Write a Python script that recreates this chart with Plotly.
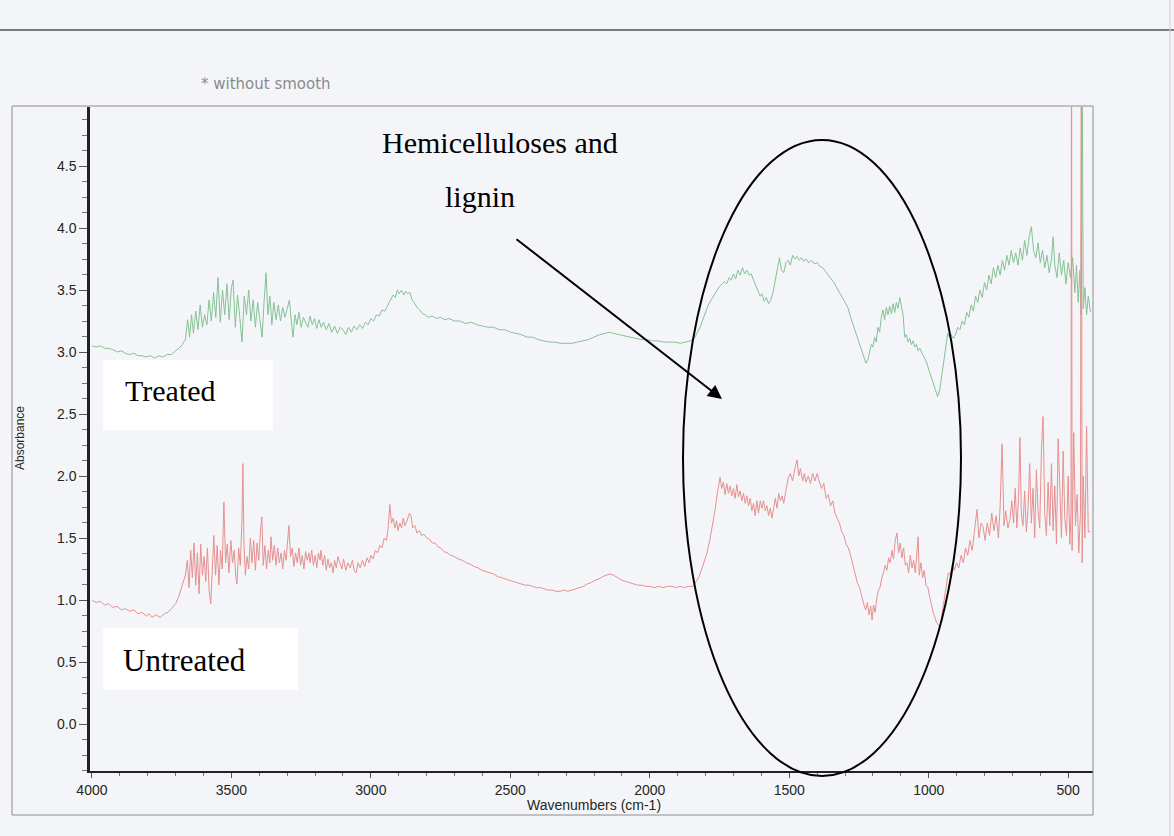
import plotly.graph_objects as go

# ---------------- data ----------------
wn_treated = [4000, 3985, 3970, 3955, 3940, 3925, 3910, 3895, 3880, 3865, 3850, 3835, 3820, 3805, 3790, 3775,
              3760, 3745, 3730, 3715, 3700, 3688, 3676,
              3665, 3657, 3650, 3643, 3636, 3628, 3620, 3612, 3604, 3596, 3588, 3580, 3572, 3564, 3556, 3548,
              3540, 3532, 3524, 3516, 3508, 3500, 3494, 3486, 3478, 3470, 3462, 3454, 3446, 3438, 3430, 3422,
              3414, 3406, 3398, 3390, 3383, 3376, 3369, 3362, 3355, 3348, 3340, 3332, 3324, 3316, 3308, 3300,
              3292, 3285, 3279, 3272, 3265, 3258, 3250, 3242, 3234, 3226, 3218, 3210, 3202, 3194, 3186, 3178,
              3170, 3160, 3150, 3140, 3130, 3120, 3110, 3100, 3090, 3080, 3070, 3060, 3050, 3040, 3030, 3020,
              3010, 3000, 2990, 2980, 2970, 2960, 2950, 2940, 2930, 2920, 2912, 2905, 2898, 2890, 2882, 2875,
              2868, 2860, 2852, 2845, 2835, 2825, 2815, 2805, 2795, 2780, 2765, 2750, 2735, 2720, 2700, 2680,
              2660, 2640, 2620, 2600, 2580, 2560, 2540, 2520, 2500, 2480, 2460, 2440, 2420, 2400, 2380, 2360,
              2340, 2320, 2300, 2280, 2260, 2240, 2220, 2200, 2180, 2160, 2145, 2130, 2110, 2090, 2070, 2050,
              2030, 2010, 1990, 1970, 1950, 1930, 1910, 1890, 1870, 1855, 1840, 1830, 1820, 1810, 1800, 1790,
              1780, 1770, 1760, 1750, 1740, 1732, 1724, 1716, 1708, 1700, 1692, 1684, 1676, 1668, 1660, 1652,
              1644, 1636, 1628, 1620, 1612, 1604, 1598, 1590, 1582, 1574, 1566, 1558, 1550, 1542, 1535, 1528,
              1520, 1512, 1504, 1496, 1488, 1480, 1472, 1464, 1456, 1448, 1440, 1430, 1420, 1410, 1400, 1390,
              1380, 1370, 1360, 1350, 1340, 1330, 1320, 1310, 1300, 1290, 1280, 1270, 1260, 1250, 1240, 1232,
              1225, 1218, 1212, 1206, 1200, 1194, 1188, 1182, 1176, 1170, 1164, 1158, 1152, 1146, 1140, 1134,
              1128, 1122, 1116, 1110, 1104, 1098, 1092, 1086, 1080, 1074, 1068, 1062, 1056, 1050, 1044, 1038,
              1032, 1024, 1016, 1008, 1000, 992, 984, 976, 968, 960, 952, 944, 938, 932, 926, 920,
              912, 904, 896, 888, 880, 872, 864, 856, 848, 840, 832, 824, 816, 808, 800, 792,
              784, 776, 768, 760, 752, 744, 736, 728, 720, 712, 704, 696, 688, 680, 672, 664,
              656, 648, 640, 632, 624, 616, 608, 600, 592, 584, 576, 568, 560, 554, 548, 540,
              532, 524, 516, 508, 500, 492, 484, 476, 470, 464, 458, 454, 450, 446, 440, 434,
              428, 420]
abs_treated = [3.05, 3.04, 3.05, 3.03, 3.03, 3.02, 3.00, 3.01, 2.99, 2.98, 2.99, 2.97, 2.97, 2.96, 2.97, 2.95,
               2.97, 2.96, 2.98, 2.98, 3.01, 3.03, 3.06,
               3.10, 3.26, 3.12, 3.30, 3.15, 3.33, 3.18, 3.38, 3.20, 3.30, 3.22, 3.42, 3.25, 3.48, 3.28, 3.60,
               3.24, 3.50, 3.30, 3.55, 3.26, 3.52, 3.58, 3.20, 3.46, 3.28, 3.08, 3.45, 3.30, 3.50, 3.25, 3.42,
               3.20, 3.40, 3.28, 3.12, 3.40, 3.64, 3.30, 3.45, 3.22, 3.40, 3.26, 3.38, 3.25, 3.36, 3.28, 3.34,
               3.42, 3.24, 3.12, 3.30, 3.22, 3.32, 3.20, 3.28, 3.24, 3.20, 3.29, 3.22, 3.27, 3.19, 3.26, 3.20,
               3.24, 3.18, 3.23, 3.16, 3.21, 3.15, 3.20, 3.18, 3.14, 3.20, 3.16, 3.21, 3.18, 3.22, 3.19, 3.24,
               3.22, 3.27, 3.25, 3.30, 3.29, 3.34, 3.33, 3.38, 3.42, 3.46, 3.44, 3.50, 3.47, 3.50, 3.46, 3.49,
               3.47, 3.48, 3.42, 3.40, 3.36, 3.34, 3.31, 3.30, 3.28, 3.29, 3.27, 3.28, 3.26, 3.27, 3.25, 3.25,
               3.23, 3.24, 3.22, 3.21, 3.20, 3.20, 3.18, 3.18, 3.16, 3.15, 3.14, 3.12, 3.12, 3.10, 3.09, 3.08,
               3.08, 3.07, 3.07, 3.07, 3.08, 3.09, 3.10, 3.12, 3.14, 3.15, 3.16, 3.15, 3.14, 3.13, 3.12, 3.11,
               3.10, 3.10, 3.09, 3.09, 3.08, 3.08, 3.08, 3.07, 3.08, 3.09, 3.11, 3.15, 3.20, 3.26, 3.32, 3.38,
               3.42, 3.46, 3.50, 3.53, 3.55, 3.57, 3.55, 3.60, 3.58, 3.63, 3.59, 3.66, 3.62, 3.68, 3.63, 3.66,
               3.62, 3.63, 3.58, 3.54, 3.50, 3.45, 3.47, 3.41, 3.44, 3.39, 3.42, 3.48, 3.58, 3.68, 3.76, 3.66,
               3.64, 3.72, 3.74, 3.70, 3.78, 3.75, 3.77, 3.74, 3.76, 3.73, 3.75, 3.72, 3.74, 3.71, 3.72, 3.69,
               3.68, 3.65, 3.62, 3.60, 3.56, 3.52, 3.48, 3.45, 3.40, 3.36, 3.28, 3.21, 3.15, 3.08, 3.02, 2.96,
               2.91, 2.94, 2.99, 3.06, 3.04, 3.12, 3.08, 3.20, 3.16, 3.28, 3.34, 3.26, 3.36, 3.30, 3.37, 3.31,
               3.39, 3.32, 3.40, 3.35, 3.44, 3.38, 3.30, 3.12, 3.14, 3.08, 3.11, 3.06, 3.09, 3.04, 3.06, 3.01,
               3.03, 2.99, 2.96, 2.92, 2.86, 2.80, 2.74, 2.70, 2.64, 2.70, 2.82, 2.96, 3.06, 3.15, 3.12, 3.14,
               3.11, 3.14, 3.20, 3.18, 3.25, 3.22, 3.32, 3.28, 3.38, 3.33, 3.45, 3.40, 3.50, 3.44, 3.56, 3.50,
               3.62, 3.55, 3.68, 3.60, 3.70, 3.62, 3.74, 3.66, 3.78, 3.70, 3.82, 3.72, 3.80, 3.70, 3.84, 3.74,
               3.90, 3.78, 3.93, 4.01, 3.82, 3.76, 3.88, 3.72, 3.82, 3.68, 3.78, 3.64, 3.75, 3.93, 3.70, 3.60,
               3.80, 3.62, 3.74, 3.55, 3.72, 3.60, 3.76, 3.48, 3.70, 3.40, 3.66, 3.30, 5.50, 3.35, 3.52, 3.30,
               3.45, 3.32]

wn_untreated = [4000, 3985, 3970, 3955, 3940, 3925, 3910, 3895, 3880, 3865, 3850, 3835, 3820, 3805, 3795, 3785,
                3770, 3755, 3740, 3728, 3715, 3700, 3690, 3681, 3672, 3665,
                3658, 3652, 3646, 3640, 3634, 3628, 3622, 3616, 3610, 3604, 3598, 3592, 3586, 3580, 3574, 3568,
                3563, 3557, 3551, 3545, 3539, 3533, 3527, 3521, 3515, 3509, 3502, 3496, 3490, 3484, 3480, 3474,
                3468, 3462, 3459, 3455, 3450, 3444, 3438, 3432, 3426, 3420, 3414, 3408, 3402, 3396, 3391, 3386,
                3380, 3374, 3368, 3362, 3358, 3352, 3346, 3340, 3334, 3328, 3322, 3316, 3310, 3304, 3298, 3294,
                3288, 3282, 3276, 3270, 3264, 3258, 3252, 3246, 3240, 3234, 3228, 3222, 3218, 3212, 3206, 3200,
                3194, 3188, 3182, 3179, 3172, 3166, 3160, 3154, 3148, 3142, 3136, 3130, 3124, 3118, 3111, 3104,
                3098, 3090, 3082, 3074, 3066, 3060, 3053, 3046, 3038, 3030, 3022, 3014, 3006, 3000, 2992, 2984,
                2976, 2968, 2960, 2952, 2944, 2938, 2932, 2926, 2920, 2914, 2908, 2903, 2896, 2890, 2884, 2878,
                2870, 2862, 2856, 2850, 2842, 2835, 2826, 2818, 2810, 2800, 2790, 2780, 2770, 2760, 2750, 2738,
                2726, 2714, 2700, 2686, 2672, 2658, 2644, 2630, 2616, 2602, 2588, 2574, 2560, 2546, 2532, 2518,
                2504, 2490, 2476, 2462, 2448, 2434, 2420, 2406, 2392, 2378, 2364, 2350, 2336, 2322, 2308, 2294,
                2280, 2266, 2252, 2238, 2224, 2210, 2196, 2182, 2168, 2154, 2143, 2130, 2116, 2100, 2086, 2072,
                2058, 2044, 2030, 2014, 2000, 1984, 1968, 1952, 1936, 1920, 1904, 1892, 1876, 1860, 1845, 1835,
                1825, 1815, 1805, 1795, 1785, 1775, 1765, 1758, 1752, 1748, 1742, 1736, 1730, 1724, 1718, 1712,
                1706, 1700, 1694, 1688, 1682, 1676, 1670, 1664, 1658, 1652, 1646, 1640, 1634, 1628, 1622, 1616,
                1610, 1604, 1598, 1592, 1586, 1580, 1574, 1568, 1562, 1556, 1550, 1544, 1538, 1532, 1526, 1520,
                1512, 1504, 1496, 1488, 1480, 1472, 1466, 1460, 1452, 1446, 1440, 1432, 1424, 1416, 1408, 1400,
                1392, 1384, 1376, 1368, 1360, 1352, 1344, 1336, 1328, 1320, 1312, 1304, 1296, 1288, 1280, 1272,
                1264, 1256, 1248, 1240, 1232, 1226, 1220, 1214, 1208, 1203, 1198, 1192, 1186, 1180, 1175, 1168,
                1162, 1156, 1150, 1144, 1138, 1132, 1126, 1120, 1114, 1108, 1102, 1096, 1090, 1084, 1078, 1072,
                1066, 1060, 1054, 1048, 1042, 1038, 1034, 1028, 1022, 1016, 1010, 1003, 996, 990, 984, 978,
                972, 966, 960, 954, 948, 942, 936, 930, 924, 916, 908, 900, 892, 884, 876, 868,
                860, 852, 844, 836, 827, 820, 812, 805, 798, 790, 782, 774, 766, 758, 750, 744,
                737, 730, 724, 716, 709, 702, 696, 690, 684, 678, 673, 668, 662, 656, 650, 644,
                638, 632, 626, 620, 614, 608, 602, 596, 590, 584, 578, 572, 566, 560, 554, 548,
                542, 536, 530, 524, 518, 512, 506, 500, 494, 490, 488, 486, 480, 474, 468, 462,
                456, 453, 450, 446, 440, 434, 428, 420]
abs_untreated = [1.00, 0.98, 0.99, 0.96, 0.97, 0.94, 0.95, 0.92, 0.93, 0.91, 0.92, 0.89, 0.90, 0.87, 0.89, 0.86,
                 0.88, 0.86, 0.89, 0.90, 0.93, 0.97, 1.02, 1.08, 1.14, 1.20,
                 1.32, 1.10, 1.40, 1.18, 1.46, 1.12, 1.38, 1.05, 1.45, 1.20, 1.35, 1.15, 1.42, 1.08, 0.97, 1.30,
                 1.52, 1.20, 1.44, 1.12, 1.40, 1.25, 1.79, 1.30, 1.45, 1.22, 1.48, 1.30, 1.40, 1.18, 1.13, 1.42,
                 1.28, 1.65, 2.10, 1.45, 1.20, 1.35, 1.25, 1.50, 1.30, 1.48, 1.24, 1.46, 1.32, 1.55, 1.67, 1.28,
                 1.44, 1.25, 1.40, 1.30, 1.51, 1.32, 1.44, 1.28, 1.42, 1.30, 1.38, 1.25, 1.40, 1.32, 1.48, 1.60,
                 1.35, 1.42, 1.27, 1.38, 1.30, 1.42, 1.28, 1.36, 1.25, 1.39, 1.32, 1.38, 1.30, 1.40, 1.28, 1.36,
                 1.26, 1.38, 1.32, 1.40, 1.28, 1.36, 1.24, 1.33, 1.26, 1.30, 1.22, 1.32, 1.26, 1.35, 1.30, 1.25,
                 1.33, 1.24, 1.30, 1.26, 1.32, 1.24, 1.22, 1.30, 1.26, 1.32, 1.27, 1.34, 1.30, 1.36, 1.33, 1.40,
                 1.38, 1.44, 1.42, 1.50, 1.48, 1.58, 1.77, 1.62, 1.66, 1.58, 1.64, 1.56, 1.62, 1.58, 1.66, 1.60,
                 1.64, 1.70, 1.68, 1.58, 1.60, 1.54, 1.56, 1.52, 1.53, 1.50, 1.49, 1.46, 1.46, 1.43, 1.42, 1.39,
                 1.38, 1.36, 1.35, 1.33, 1.32, 1.30, 1.29, 1.27, 1.26, 1.24, 1.23, 1.22, 1.21, 1.19, 1.18, 1.17,
                 1.16, 1.15, 1.14, 1.13, 1.12, 1.12, 1.11, 1.10, 1.10, 1.09, 1.08, 1.08, 1.07, 1.07, 1.08, 1.07,
                 1.08, 1.09, 1.10, 1.11, 1.13, 1.14, 1.16, 1.17, 1.19, 1.20, 1.21, 1.20, 1.18, 1.16, 1.15, 1.14,
                 1.13, 1.12, 1.12, 1.11, 1.11, 1.10, 1.11, 1.10, 1.11, 1.11, 1.10, 1.11, 1.10, 1.11, 1.11, 1.14,
                 1.18, 1.24, 1.31, 1.38, 1.48, 1.60, 1.74, 1.86, 1.96, 1.99, 1.90, 1.95, 1.85, 1.94, 1.86, 1.92,
                 1.84, 1.90, 1.82, 1.93, 1.83, 1.88, 1.80, 1.86, 1.78, 1.84, 1.76, 1.82, 1.72, 1.78, 1.68, 1.80,
                 1.70, 1.80, 1.74, 1.80, 1.72, 1.76, 1.68, 1.74, 1.66, 1.76, 1.82, 1.74, 1.86, 1.80, 1.84, 1.78,
                 1.90, 1.98, 2.02, 1.96, 2.06, 2.13, 2.00, 2.06, 1.96, 2.02, 1.95, 2.00, 1.94, 2.02, 1.96, 2.02,
                 1.95, 1.90, 1.94, 1.82, 1.85, 1.76, 1.80, 1.70, 1.66, 1.62, 1.55, 1.52, 1.45, 1.42, 1.36, 1.28,
                 1.22, 1.14, 1.10, 1.02, 0.96, 0.92, 0.98, 0.88, 0.95, 0.84, 0.96, 0.90, 1.02, 1.08, 1.10, 1.18,
                 1.22, 1.28, 1.24, 1.34, 1.30, 1.40, 1.33, 1.48, 1.54, 1.38, 1.46, 1.34, 1.42, 1.28, 1.30, 1.22,
                 1.36, 1.26, 1.32, 1.22, 1.38, 1.51, 1.20, 1.30, 1.18, 1.24, 1.12, 1.10, 1.02, 0.95, 0.90, 0.86,
                 0.82, 0.80, 0.78, 0.86, 0.96, 1.06, 1.16, 1.22, 1.20, 1.28, 1.24, 1.30, 1.26, 1.36, 1.30, 1.42,
                 1.36, 1.48, 1.40, 1.55, 1.73, 1.50, 1.62, 1.59, 1.48, 1.62, 1.52, 1.70, 1.56, 1.68, 1.50, 1.75,
                 2.26, 1.60, 1.72, 1.58, 1.65, 1.80, 1.62, 1.90, 1.58, 1.82, 2.31, 1.70, 1.60, 1.88, 1.55, 1.73,
                 2.10, 1.62, 1.90, 1.50, 2.05, 1.72, 1.58, 2.20, 2.48, 1.70, 1.52, 1.95, 1.60, 2.10, 1.56, 1.92,
                 1.45, 2.30, 1.80, 1.50, 2.20, 1.65, 1.52, 2.00, 1.45, 1.70, 6.00, 1.40, 2.35, 1.60, 1.85, 1.38,
                 1.70, 6.00, 1.30, 2.00, 1.50, 2.40, 1.55, 1.55]

x_ticks = [4000, 3500, 3000, 2500, 2000, 1500, 1000, 500]
y_ticks = [0.0, 0.5, 1.0, 1.5, 2.0, 2.5, 3.0, 3.5, 4.0, 4.5]

# ---------------- layout geometry ----------------
FIG_W, FIG_H = 1174, 836
ML, MR, MT, MB = 90, 81, 107, 65
PW, PH = FIG_W - ML - MR, FIG_H - MT - MB


def px(x):
    return (x - ML) / PW


def py(y):
    return (MT + PH - y) / PH


fig = go.Figure()
fig.add_trace(go.Scatter(x=wn_treated, y=abs_treated, mode="lines", name="Treated",
                         line=dict(color="#86c295", width=1), hoverinfo="skip"))
fig.add_trace(go.Scatter(x=wn_untreated, y=abs_untreated, mode="lines", name="Untreated",
                         line=dict(color="#e79090", width=1), hoverinfo="skip"))

tick_font = dict(family="Liberation Sans, Arial, sans-serif", size=14, color="#262626")
fig.update_layout(
    width=FIG_W, height=FIG_H, autosize=False,
    margin=dict(l=ML, r=MR, t=MT, b=MB, pad=0),
    paper_bgcolor="#f4f5f8", plot_bgcolor="#f4f5f8",
    showlegend=False,
    xaxis=dict(range=[4007, 411], tickvals=x_ticks, ticktext=[str(v) for v in x_ticks],
               ticks="outside", ticklen=5, tickcolor="#555", tickwidth=1,
               showline=True, linecolor="#222", linewidth=2, showgrid=False, zeroline=False,
               tickfont=tick_font,
               minor=dict(dtick=100, ticks="outside", ticklen=3, tickcolor="#777", showgrid=False)),
    yaxis=dict(range=[-0.379, 4.976], tickvals=y_ticks, ticktext=[f"{v:.1f}" for v in y_ticks],
               ticks="outside", ticklen=8, tickcolor="#555", tickwidth=1,
               showline=True, linecolor="#222", linewidth=2.5, showgrid=False, zeroline=False,
               tickfont=tick_font,
               minor=dict(tick0=0, dtick=0.125, ticks="outside", ticklen=5, tickcolor="#777", showgrid=False)),
)

shapes = [
    # scan edges / outer frame
    dict(type="line", xref="paper", yref="paper", x0=px(0), x1=px(FIG_W), y0=py(30), y1=py(30),
         line=dict(color="#505050", width=1.5)),
    dict(type="rect", xref="paper", yref="paper", x0=px(12), x1=px(1093), y0=py(815), y1=py(106),
         line=dict(color="#8c8c8c", width=1)),
    dict(type="line", xref="paper", yref="paper", x0=px(1170), x1=px(1170), y0=py(0), y1=py(FIG_H),
         line=dict(color="#d0d0d4", width=1)),
    # white label boxes
    dict(type="rect", xref="paper", yref="paper", x0=px(103), x1=px(273), y0=py(430), y1=py(360),
         fillcolor="#ffffff", line=dict(width=0), layer="below"),
    dict(type="rect", xref="paper", yref="paper", x0=px(103), x1=px(298), y0=py(690), y1=py(628),
         fillcolor="#ffffff", line=dict(width=0), layer="below"),
    # highlight ellipse
    dict(type="circle", xref="paper", yref="paper", x0=px(683), x1=px(961), y0=py(776), y1=py(140),
         line=dict(color="#000000", width=2), layer="above"),
]
fig.update_layout(shapes=shapes)

serif = "Liberation Serif, Times New Roman, serif"
sans = "Liberation Sans, Arial, sans-serif"
annotations = [
    dict(text="Hemicelluloses and", x=px(500), y=py(142), font=dict(family=serif, size=30, color="#000")),
    dict(text="lignin", x=px(480), y=py(196), font=dict(family=serif, size=30, color="#000")),
    dict(text="Treated", x=px(123), y=py(390), xanchor="left", font=dict(family=serif, size=30, color="#000")),
    dict(text="Untreated", x=px(121), y=py(660), xanchor="left", font=dict(family=serif, size=31, color="#000")),
    dict(text="Wavenumbers (cm-1)", x=px(594), y=py(805), font=dict(family=sans, size=14, color="#262626")),
    dict(text="Absorbance", x=px(20), y=py(438), textangle=-90, font=dict(family=sans, size=12, color="#262626")),
    dict(text="* without smooth", x=px(266), y=py(84), font=dict(family="DejaVu Sans, sans-serif", size=15, color="#8a8a8a")),
    dict(text="", x=px(722), y=py(399), showarrow=True, ax=515 - 722, ay=238 - 399,
         arrowhead=2, arrowsize=1.4, arrowwidth=2, arrowcolor="#000"),
]
for a in annotations:
    a.setdefault("xref", "paper")
    a.setdefault("yref", "paper")
    a.setdefault("showarrow", False)
    a.setdefault("xanchor", "center")
    a.setdefault("yanchor", "middle")
fig.update_layout(annotations=annotations)

fig.write_html("out.html", config={"displayModeBar": False},
               post_script="document.body.style.margin='0px';")
